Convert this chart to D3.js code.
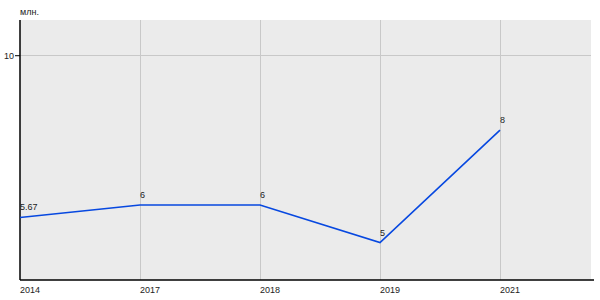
<!DOCTYPE html>
<html>
<head>
<meta charset="utf-8">
<script src="https://cdn.jsdelivr.net/npm/d3@7"></script>
<style>
  body { margin: 0; background: #fff; }
  svg text { font-family: "Liberation Sans", Arial, sans-serif; fill: #222; }
</style>
</head>
<body>
<div id="container"></div>
<script>
var years = ["2014", "2017", "2018", "2019", "2021"];
var values = [5.67, 6, 6, 5, 8];
var labels = ["5.67", "6", "6", "5", "8"];
var yTicks = [10];
var unit = "млн.";

var width = 600, height = 300;
var pLeft = 20, pTop = 20, pRight = 591, pBottom = 280;

var svg = d3.select("#container")
            .append("svg")
            .attr("width", width)
            .attr("height", height);

var x = d3.scalePoint().domain(years).range([pLeft, 500]);
var y = d3.scaleLinear().domain([4, 10.94]).range([pBottom, pTop]);

// plot background
svg.append("rect")
   .attr("x", pLeft).attr("y", pTop)
   .attr("width", pRight - pLeft).attr("height", pBottom - pTop)
   .style("fill", "#ebebeb");

// grid
svg.append("g").selectAll("line")
   .data(years.slice(1))
   .enter().append("line")
   .attr("x1", function(d){ return x(d) + .5 }).attr("x2", function(d){ return x(d) + .5 })
   .attr("y1", pTop).attr("y2", pBottom)
   .style("stroke", "#c8c8c8");

svg.append("g").selectAll("line")
   .data(yTicks)
   .enter().append("line")
   .attr("x1", pLeft).attr("x2", pRight)
   .attr("y1", function(d){ return Math.round(y(d)) + .5 })
   .attr("y2", function(d){ return Math.round(y(d)) + .5 })
   .style("stroke", "#c8c8c8");

// axes
var yAxis = d3.axisLeft(y).tickValues(yTicks).tickSize(5).tickFormat(d3.format("d"));
var yg = svg.append("g").attr("transform", "translate(" + pLeft + ",0)").call(yAxis);
yg.select(".domain").remove();
yg.selectAll("text").style("font-size", "9px").attr("x", -6);
yg.selectAll("line").style("stroke", "#000");

svg.append("line")
   .attr("x1", pLeft).attr("x2", pLeft)
   .attr("y1", pTop).attr("y2", pBottom)
   .style("stroke", "#000").style("stroke-width", 1.5);

svg.append("line")
   .attr("x1", pLeft).attr("x2", 594)
   .attr("y1", pBottom).attr("y2", pBottom)
   .style("stroke", "#000").style("stroke-width", 1.5);

svg.append("g").selectAll("text")
   .data(years)
   .enter().append("text")
   .attr("x", function(d){ return x(d) })
   .attr("y", pBottom + 13)
   .style("font-size", "9px")
   .text(function(d){ return d });

svg.append("text")
   .attr("x", pLeft)
   .attr("y", 15)
   .style("font-size", "9px")
   .text(unit);

// series
var line = d3.line()
  .x(function(d, i){ return x(years[i]) })
  .y(function(d){ return y(d) });

svg.append("path")
   .datum(values)
   .attr("d", line)
   .style("fill", "none")
   .style("stroke", "#0748e0")
   .style("stroke-width", 1.6);

svg.append("g").selectAll("text")
   .data(values)
   .enter().append("text")
   .attr("x", function(d, i){ return x(years[i]) })
   .attr("y", function(d){ return y(d) - 7 })
   .style("font-size", "9px")
   .text(function(d, i){ return labels[i] });
</script>
</body>
</html>
